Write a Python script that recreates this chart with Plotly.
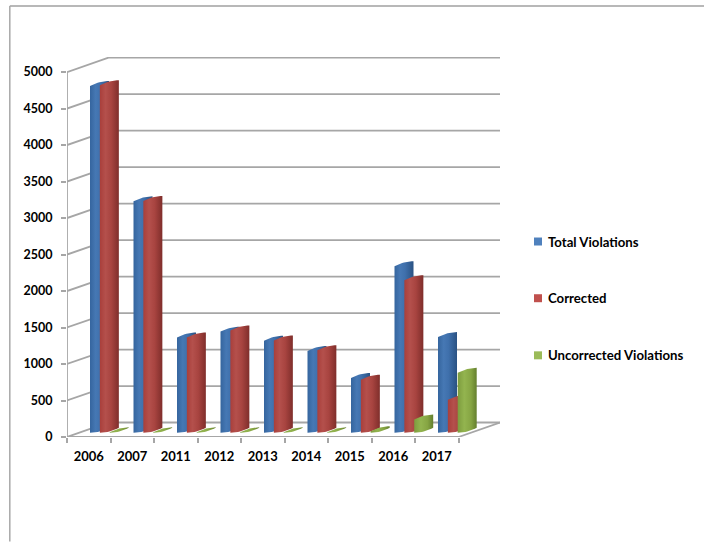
import plotly.graph_objects as go

categories = ["2006", "2007", "2011", "2012", "2013", "2014", "2015", "2016", "2017"]
total_violations = [4750, 3170, 1305, 1385, 1260, 1120, 750, 2280, 1310]
corrected = [4760, 3175, 1305, 1400, 1265, 1130, 725, 2090, 450]
uncorrected = [5, 5, 5, 5, 5, 5, 20, 180, 820]
y_ticks = [0, 500, 1000, 1500, 2000, 2500, 3000, 3500, 4000, 4500, 5000]

series = [
    ("Total Violations", total_violations, "#4F81BD",
     [[0, "#35659E"], [0.3, "#4678B4"], [0.55, "#3F70AC"], [1, "#2A5283"]]),
    ("Corrected", corrected, "#C0504D",
     [[0, "#A93F3B"], [0.3, "#B4504C"], [0.6, "#A84440"], [1, "#7F2E2B"]]),
    ("Uncorrected Violations", uncorrected, "#9BBB59",
     [[0, "#7D9C3E"], [0.35, "#93B44F"], [0.7, "#86A543"], [1, "#647F2E"]]),
]

W, H = 704, 542
L, R, T, B = 67.0, 500.0, 56.7, 437.3
PX_PER_CAT = 43.5
PX_PER_UNIT = 0.0731
GRID = "#A6A6A6"


def dx(px):
    return px / PX_PER_CAT


def dy(px):
    return px / PX_PER_UNIT


def paper_x(px):
    return (px - L) / (R - L)


def paper_y(px):
    return 1 - (px - T) / (B - T)


DEPTH_X, DEPTH_Y = dx(41.5), dy(14.5)
BAR_LEFT, BAR_W, BAR_STEP = dx(23), dx(19), dx(9.85)
BASE, RISE = dy(4.3), dy(5)
N = len(categories)

fig = go.Figure()

# walls and floor
gx, gy = [], []
for v in y_ticks:
    gx += [0, DEPTH_X, (R - L) / PX_PER_CAT, None]
    gy += [v, v + DEPTH_Y, v + DEPTH_Y, None]
gx += [0, 0, None, 0, N, (R - L) / PX_PER_CAT]
gy += [0, y_ticks[-1], None, 0, 0, DEPTH_Y]
fig.add_trace(go.Scatter(x=gx, y=gy, mode="lines", line=dict(color=GRID, width=1.8),
                         hoverinfo="skip", showlegend=False, cliponaxis=False))

# bars: a curved top and bottom edge and a shaded body, all in axis units
STEPS = 10
for s, (name, values, _, scale) in enumerate(series):
    for i, v in enumerate(values):
        x0 = i + BAR_LEFT + s * BAR_STEP
        ts = [k / STEPS for k in range(STEPS + 1)]
        top_x = [x0 + BAR_W * t for t in ts]
        top_y = [BASE + v + RISE * (1 - (1 - t) ** 2) for t in ts]
        bot_y = [BASE + RISE * t ** 2 for t in ts]
        fig.add_trace(go.Scatter(
            x=top_x + top_x[::-1], y=top_y + bot_y[::-1], mode="lines", fill="toself",
            line=dict(width=0), name=name,
            fillgradient=dict(type="horizontal", colorscale=scale, start=x0, stop=x0 + BAR_W),
            hoveron="fills", text=f"{categories[i]}: {v}", hoverinfo="text+name",
            showlegend=False, cliponaxis=False))

fig.update_layout(
    width=W, height=H, autosize=False, paper_bgcolor="white", plot_bgcolor="white",
    margin=dict(l=L, r=W - R, t=T, b=H - B, pad=0),
    showlegend=False,
    font=dict(family="Lato", size=12, color="#000000"),
    xaxis=dict(range=[0, (R - L) / PX_PER_CAT], tickmode="array",
               tickvals=[i + 0.5 for i in range(N)], ticktext=categories,
               showgrid=False, zeroline=False, showline=False, ticks="", ticklen=5,
               ticklabelstandoff=10, tickfont=dict(family="Lato", size=13, weight="bold"),
               minor=dict(tickmode="array", tickvals=list(range(N + 1)), ticks="outside",
                          ticklen=5, tickwidth=1.5, tickcolor=GRID, showgrid=False)),
    yaxis=dict(range=[0, (B - T) / PX_PER_UNIT], tickmode="array", tickvals=y_ticks,
               showgrid=False, zeroline=False, showline=False, ticks="outside", ticklen=5,
               tickwidth=1.5, tickcolor=GRID, ticklabelstandoff=6,
               tickfont=dict(family="Lato", size=12.5, weight="bold")),
)

# chart area border (top and left edges reach the picture)
fig.add_shape(type="line", xref="paper", yref="paper", x0=paper_x(9.8), x1=paper_x(W),
              y0=paper_y(5.5), y1=paper_y(5.5), line=dict(color="#A0A0A0", width=1.5))
fig.add_shape(type="line", xref="paper", yref="paper", x0=paper_x(9.8), x1=paper_x(9.8),
              y0=paper_y(5.5), y1=paper_y(H), line=dict(color="#A8A8A8", width=1.5))

# legend
for (name, _, color, _), cy in zip(series, [241.5, 298.3, 355.5]):
    fig.add_shape(type="rect", xref="paper", yref="paper", x0=paper_x(534), x1=paper_x(542),
                  y0=paper_y(cy - 4), y1=paper_y(cy + 4), fillcolor=color, line=dict(width=0))
    fig.add_annotation(xref="paper", yref="paper", x=paper_x(548), y=paper_y(cy), text=f"<b>{name}</b>",
                       showarrow=False, xanchor="left", yanchor="middle", xshift=0,
                       font=dict(family="Lato", size=13.2, color="#000000"), borderpad=0, borderwidth=0)

fig.write_html("out.html", post_script="document.body.style.margin='0';",
               config=dict(displayModeBar=False))
